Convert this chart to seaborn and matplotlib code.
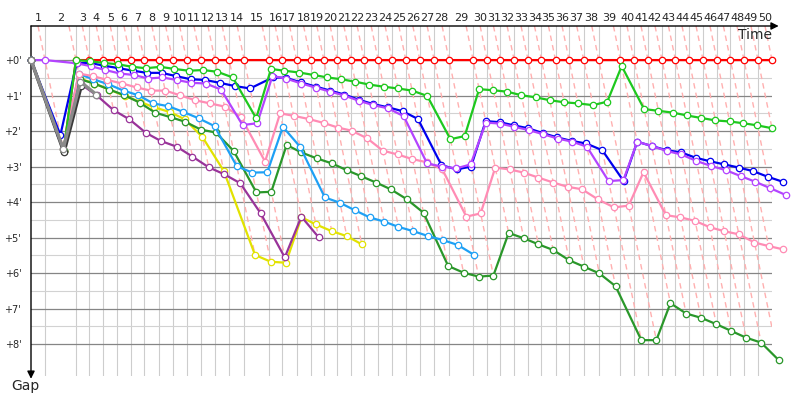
import numpy as np
import pandas as pd
import matplotlib
matplotlib.use("Agg")
import matplotlib.pyplot as plt
import seaborn as sns

sns.set_style("white")
plt.rcParams["font.family"] = ["DejaVu Sans"]

# elapsed time of the lap leader (minutes) at the end of each lap, index 0 = start
leader_time = [0, 1.92, 6.16, 7.99, 9.90, 11.82, 13.70, 15.52, 17.53, 19.41, 21.33,
               23.29, 25.21, 27.16, 29.22, 32.64, 34.42, 36.40, 38.32, 40.14, 41.96,
               43.84, 45.66, 47.58, 49.49, 51.37, 53.29, 55.25, 57.30, 60.59, 62.51,
               64.34, 66.21, 68.12, 69.96, 71.88, 73.74, 75.75, 77.81, 80.78, 82.64,
               84.56, 86.48, 88.32, 90.18, 92.10, 94.01, 95.85, 97.71, 99.63, 101.55]
lap_labels = [str(n) for n in range(1, 51)]

# gap to the leader (minutes) per completed lap, index 0 = start
red = [0, 2.55, 0.0] + [0.0] * 48
green = [0, 2.55, 0.0, 0.03, 0.08, 0.12, 0.19, 0.23, 0.19, 0.25, 0.30, 0.28, 0.33, 0.49,
         1.64, 0.25, 0.30, 0.35, 0.42, 0.49, 0.54, 0.61, 0.69, 0.75, 0.80, 0.86, 1.01,
         2.23, 2.14, 0.82, 0.85, 0.89, 0.99, 1.05, 1.13, 1.19, 1.22, 1.27, 1.17, 0.17,
         1.38, 1.43, 1.48, 1.56, 1.63, 1.70, 1.73, 1.78, 1.84, 1.92]
blue = [0, 2.11, 0.09, 0.08, 0.16, 0.23, 0.30, 0.36, 0.36, 0.45, 0.54, 0.56, 0.64, 0.73,
        0.80, 0.49, 0.50, 0.63, 0.75, 0.86, 0.97, 1.12, 1.24, 1.33, 1.44, 1.66, 2.96,
        3.08, 3.00, 1.72, 1.75, 1.84, 1.92, 2.06, 2.18, 2.28, 2.35, 2.54, 3.41, 2.30,
        2.42, 2.54, 2.60, 2.75, 2.85, 2.94, 3.03, 3.13, 3.29, 3.43]
violet = [0, 0.0, 0.09, 0.17, 0.28, 0.38, 0.42, 0.52, 0.49, 0.56, 0.64, 0.66, 0.83, 1.83,
          1.78, 0.45, 0.52, 0.66, 0.78, 0.89, 1.00, 1.15, 1.27, 1.36, 1.58, 2.91, 3.00,
          3.05, 2.94, 1.76, 1.79, 1.88, 1.97, 2.09, 2.21, 2.30, 2.44, 3.41, 3.38, 2.30,
          2.42, 2.56, 2.66, 2.84, 2.98, 3.10, 3.27, 3.43, 3.61, 3.80]
pink = [0, 2.50, 0.38, 0.45, 0.56, 0.66, 0.77, 0.86, 0.86, 0.99, 1.13, 1.22, 1.31, 1.60,
        2.86, 1.50, 1.57, 1.66, 1.77, 1.90, 1.99, 2.20, 2.55, 2.66, 2.79, 2.88, 3.08,
        4.41, 4.32, 3.03, 3.08, 3.17, 3.31, 3.45, 3.57, 3.64, 3.92, 4.15, 4.10, 3.16,
        4.37, 4.43, 4.53, 4.71, 4.82, 4.91, 5.14, 5.24, 5.33]
lightblue = [0, 2.50, 0.39, 0.54, 0.68, 0.86, 0.99, 1.22, 1.30, 1.46, 1.64, 1.86, 2.99,
             3.17, 3.16, 1.88, 2.44, 3.87, 4.02, 4.23, 4.43, 4.55, 4.70, 4.82, 4.96, 5.07,
             5.21, 5.49]
darkgreen = [0, 2.55, 0.54, 0.66, 0.83, 0.99, 1.20, 1.48, 1.61, 1.74, 1.96, 2.04, 2.56,
             3.73, 3.71, 2.39, 2.60, 2.77, 2.91, 3.10, 3.27, 3.45, 3.64, 3.92, 4.30, 5.80,
             5.99, 6.10, 6.07, 4.87, 5.02, 5.19, 5.35, 5.64, 5.82, 6.01, 6.37, 7.89, 7.89,
             6.85, 7.14, 7.26, 7.44, 7.63, 7.82, 7.96, 8.45]
yellow = [0, 2.50, 0.52, 0.66, 0.83, 1.01, 1.17, 1.33, 1.46, 1.67, 2.17, 3.12, 5.49, 5.68,
          5.71, 4.43, 4.63, 4.82, 4.96, 5.19]
purple = [0, 2.55, 0.68, 0.99, 1.41, 1.67, 2.05, 2.28, 2.44, 2.72, 3.02, 3.22, 3.47, 4.32,
          5.56, 4.41, 4.99]
gray = [0, 2.50, 0.61, 0.97]
black = [0, 2.60, 0.73]

# drawing order, bottom to top
cars = [
    ("red", red, "#ff0000", 1.6),
    ("yellow", yellow, "#e2e200", 1.6),
    ("purple", purple, "#993399", 1.6),
    ("darkgreen", darkgreen, "#2a972a", 1.6),
    ("lightblue", lightblue, "#1ea0f5", 1.6),
    ("pink", pink, "#ff8cb4", 1.6),
    ("blue", blue, "#0000ee", 1.6),
    ("violet", violet, "#b444ff", 1.6),
    ("green", green, "#1ec81e", 1.6),
    ("black", black, "#3a3a3a", 2.4),
    ("gray", gray, "#8a8a8a", 2.4),
]

Y_TOP, Y_BOTTOM = -0.96, 8.9

fig = plt.figure(figsize=(8, 4), dpi=100)
ax = fig.add_axes([31 / 800, 24 / 400, 741 / 800, 350 / 400])
ax.set_xlim(0, leader_time[-1])
ax.set_ylim(Y_BOTTOM, Y_TOP)
for s in ax.spines.values():
    s.set_visible(False)

# grid: lap lines and half-minute / minute lines
for t in leader_time[1:-1]:
    ax.axvline(t, color="#cdcdcd", lw=0.8, zorder=0)
for g in np.arange(0.5, 8, 1.0):
    ax.axhline(g, color="#d2d2d2", lw=0.8, zorder=0)
for g in range(0, 9):
    ax.axhline(g, color="#858585", lw=0.9, zorder=0)

# dashed lap lines: everyone crossing lap k lies on t = leader_time[k] + gap
for k in range(1, len(leader_time)):
    gmax = max(gaps[k] for _, gaps, _, _ in cars if len(gaps) > k)
    t = leader_time[k]
    ax.plot([t + Y_TOP, t + gmax], [Y_TOP, gmax], ls=(0, (4, 3)),
            color="#ffb0b0", lw=1.0, zorder=1)

# each car's gap curve
for z, (name, gaps, color, lw) in enumerate(cars):
    df = pd.DataFrame({"lap": range(len(gaps)), "gap": gaps})
    df["time"] = [leader_time[k] for k in df["lap"]] + df["gap"]
    sns.lineplot(data=df, x="time", y="gap", ax=ax, color=color, lw=lw,
                 marker="o", markersize=4.6, markerfacecolor="white",
                 markeredgecolor=color, markeredgewidth=0.9,
                 sort=False, estimator=None, errorbar=None, legend=False,
                 clip_on=False, zorder=3 + z)

# lap numbers on top, centred in each lap
mids = [(a + b) / 2 for a, b in zip(leader_time[:-1], leader_time[1:])]
ax.xaxis.set_ticks_position("top")
ax.set_xticks(mids)
ax.set_xticklabels(lap_labels, fontsize=8)
ax.set_yticks(range(9))
ax.set_yticklabels([f"+{g}'" for g in range(9)], fontsize=7)
ax.tick_params(axis="x", length=0, pad=2.5)
ax.tick_params(axis="y", length=0, pad=7)
ax.set_xlabel("")
ax.set_ylabel("")

# axis arrows
arrow = dict(arrowstyle="-|>", color="black", lw=1.0, mutation_scale=11,
             shrinkA=0, shrinkB=0)
ax.annotate("", xy=(1.009, 1), xytext=(0, 1), xycoords="axes fraction",
            textcoords="axes fraction", arrowprops=arrow, annotation_clip=False)
ax.annotate("", xy=(0, -0.008), xytext=(0, 1), xycoords="axes fraction",
            textcoords="axes fraction", arrowprops=arrow, annotation_clip=False)
fig.text(772 / 800, 1 - 35 / 400, "Time", fontsize=10, ha="right", va="center")
fig.text(25 / 800, 1 - 386 / 400, "Gap", fontsize=10, ha="center", va="center")

fig.savefig("out.png", dpi=100)
